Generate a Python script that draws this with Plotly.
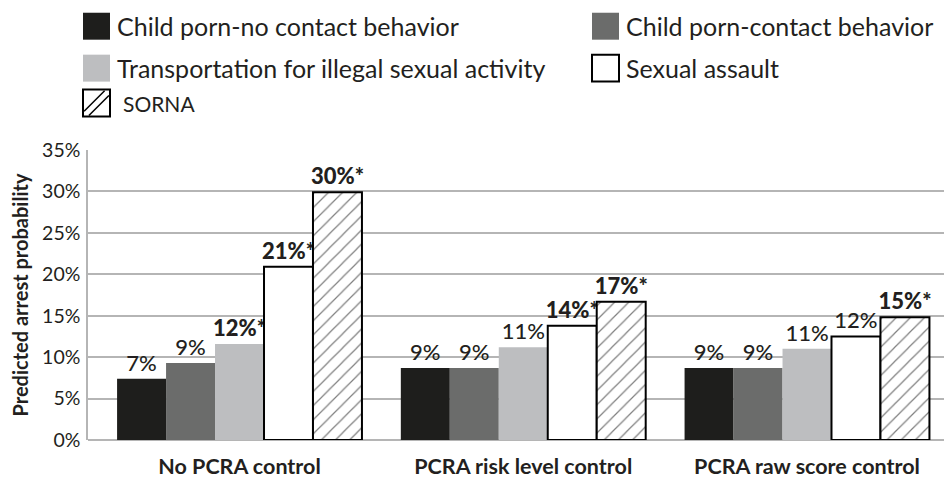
import plotly.graph_objects as go

categorias = ["No PCRA control", "PCRA risk level control", "PCRA raw score control"]

series = [
    "Child porn-no contact behavior",
    "Child porn-contact behavior",
    "Transportation for illegal sexual activity",
    "Sexual assault",
    "SORNA",
]

child_no_contact = [7.4, 8.7, 8.7]
child_contact = [9.3, 8.7, 8.7]
transportation = [11.6, 11.2, 11.0]
sexual_assault = [20.9, 13.8, 12.5]
sorna = [29.9, 16.7, 14.8]

rotulos_no_contact = ["7%", "9%", "9%"]
rotulos_contact = ["9%", "9%", "9%"]
rotulos_transport = ["12%*", "11%", "11%"]
rotulos_assault = ["21%*", "14%*", "12%"]
rotulos_sorna = ["30%*", "17%*", "15%*"]

y_ticks = [0, 5, 10, 15, 20, 25, 30, 35]

# page geometry (px); the html body has an 8px margin, so the figure is shrunk by that
W, H = 952, 479
OFF = 8
PLOT_X0, PLOT_X1 = 88, 952
PLOT_Y0, PLOT_Y1 = 150, 440.5
FONTE = "Lato"
TXT = "#231f20"

L = PLOT_X0 - OFF
R = W - PLOT_X1
T = PLOT_Y0 - OFF
B = H - PLOT_Y1
PW = PLOT_X1 - PLOT_X0
PH = PLOT_Y1 - PLOT_Y0


def px(x):
    return (x - PLOT_X0) / PW


def py(y):
    return (PLOT_Y1 - y) / PH


def rotulo(t):
    if "*" in t:
        return f'<span style="font-weight:900">{t}</span>'
    return t


estilos = [
    dict(color="#1e1e1c", line=dict(width=0)),
    dict(color="#6b6c6b", line=dict(width=0)),
    dict(color="#bdbec0", line=dict(width=0)),
    dict(color="white", line=dict(color="black", width=2)),
    dict(color="white", line=dict(color="black", width=2),
         pattern=dict(shape="/", fgcolor="black", bgcolor="white", size=10, solidity=0.12)),
]

valores = [child_no_contact, child_contact, transportation, sexual_assault, sorna]
rotulos = [rotulos_no_contact, rotulos_contact, rotulos_transport, rotulos_assault, rotulos_sorna]

fig = go.Figure()

for nome, vals, rots, est in zip(series, valores, rotulos, estilos):
    fig.add_trace(go.Bar(
        x=categorias,
        y=vals,
        name=nome,
        marker=est,
        text=[rotulo(t) for t in rots],
        textposition="outside",
        constraintext="none",
        cliponaxis=False,
        textfont=dict(family=FONTE, size=22, color=TXT, weight=500),
        showlegend=False,
        hoverinfo="name+y",
    ))

# legenda manual (quadrados grandes como no original)
leg_x = [83, 592]
leg_y = [26, 68, 103]
sw = 27
posicoes = [(0, 0), (1, 0), (0, 1), (1, 1), (0, 2)]
tam_fonte = [25, 25, 25, 25, 21]

shapes = []
annotations = []
for nome, est, (c, r), fs in zip(series, estilos, posicoes, tam_fonte):
    x0 = leg_x[c]
    y0 = leg_y[r] - sw / 2
    borda = est["line"].get("width", 0)
    shapes.append(dict(
        type="rect", xref="paper", yref="paper",
        x0=px(x0), x1=px(x0 + sw), y0=py(y0), y1=py(y0 + sw),
        fillcolor=est["color"],
        line=dict(color="black", width=borda) if borda else dict(width=0),
        layer="above",
    ))
    if "pattern" in est:
        for (ax, ay), (bx, by) in [((0.04, 0.8), (0.8, 0.04)), ((0.22, 0.96), (0.96, 0.22))]:
            shapes.append(dict(
                type="line", xref="paper", yref="paper",
                x0=px(x0 + ax * sw), y0=py(y0 + ay * sw),
                x1=px(x0 + bx * sw), y1=py(y0 + by * sw),
                line=dict(color="black", width=1.5),
                layer="above",
            ))
    annotations.append(dict(
        text=nome, xref="paper", yref="paper",
        x=px(x0 + sw + 5 + (6 if r == 2 else 0)), y=py(leg_y[r]),
        xanchor="left", yanchor="middle", showarrow=False,
        font=dict(family=FONTE, size=fs, color=TXT),
    ))

fig.update_layout(
    width=W - OFF,
    height=H - OFF,
    barmode="group",
    bargap=0.137,
    bargroupgap=0,
    margin=dict(l=L, r=R, t=T, b=B, autoexpand=False),
    plot_bgcolor="white",
    paper_bgcolor="white",
    font=dict(family=FONTE, color=TXT),
    shapes=shapes,
    annotations=annotations,
    xaxis=dict(
        range=[-0.534, 2.511],
        showgrid=False,
        showline=False,
        ticks="",
        tickfont=dict(family=FONTE, size=21.5, color=TXT, weight="bold"),
        ticklabelstandoff=11,
    ),
    yaxis=dict(
        range=[0, 35],
        tickvals=y_ticks,
        ticktext=[f"{v}%" for v in y_ticks],
        tickfont=dict(family=FONTE, size=19.5, color=TXT),
        showgrid=True,
        gridcolor="#b5b5b5",
        gridwidth=1.5,
        showline=True,
        linecolor="#b5b5b5",
        linewidth=1.5,
        zeroline=True,
        zerolinecolor="#b5b5b5",
        zerolinewidth=1.5,
        ticks="",
        ticklabelstandoff=2,
        title=dict(text="<b>Predicted arrest probability</b>", standoff=10,
                   font=dict(family=FONTE, size=20, color=TXT)),
    ),
)

fig.write_html("out.html")
